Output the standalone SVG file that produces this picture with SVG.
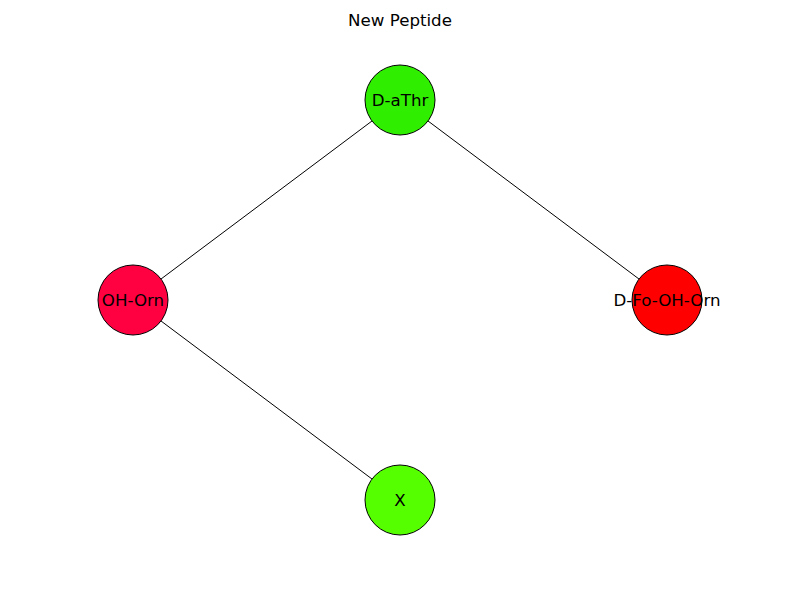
<svg xmlns="http://www.w3.org/2000/svg" width="800" height="600" viewBox="0 0 800 600">
<style>
text{font-family:"DejaVu Sans",sans-serif;font-size:16.67px;fill:#000;text-anchor:middle;dominant-baseline:central}
.n circle{stroke:#000;stroke-width:1}
.e line{stroke:#000;stroke-width:1}
</style>
<rect width="800" height="600" fill="#fff"/>
<text x="400" y="20">New Peptide</text>
<g id="edges" class="e">
<line x1="400" y1="100" x2="133" y2="300"/>
<line x1="400" y1="100" x2="667" y2="300"/>
<line x1="133" y1="300" x2="400" y2="500"/>
</g>
<g id="node-daThr" class="n"><circle cx="400" cy="100" r="35" fill="#30ee00"/><text x="400" y="100">D-aThr</text></g>
<g id="node-ohorn" class="n"><circle cx="133" cy="300" r="35" fill="#ff0040"/><text x="133" y="300">OH-Orn</text></g>
<g id="node-dfoohorn" class="n"><circle cx="667" cy="300" r="35" fill="#ff0000"/><text x="667" y="300">D-Fo-OH-Orn</text></g>
<g id="node-x" class="n"><circle cx="400" cy="500" r="35" fill="#55ff00"/><text x="400" y="500">X</text></g>
</svg>
